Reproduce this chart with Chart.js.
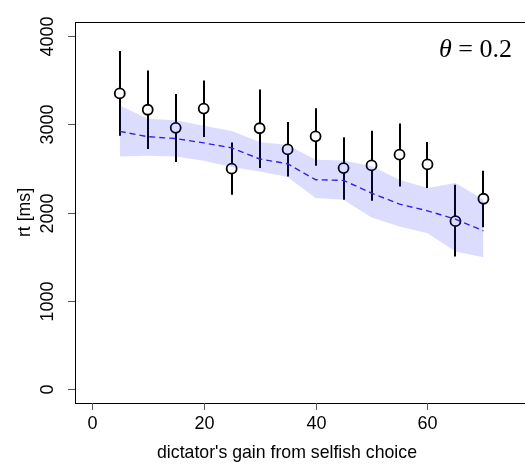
<!DOCTYPE html>
<html>
<head>
<meta charset="utf-8">
<script src="https://cdn.jsdelivr.net/npm/chart.js@4.4.0/dist/chart.umd.min.js"></script>
<style>
  body { margin: 0; overflow: hidden; background: #fff; }
  #wrap { width: 535px; height: 471px; }
</style>
</head>
<body>
<div id="wrap">
  <canvas id="rtChart" width="535" height="471"></canvas>
</div>

<script>
// dictator's gain (x) for each condition
const gains = [5, 10, 15, 20, 25, 30, 35, 40, 45, 50, 55, 60, 65, 70];

// observed mean rt and its interval
const obsMean = [3350, 3165, 2960, 3178, 2497, 2955, 2715, 2864, 2504, 2534, 2656, 2545, 1902, 2156];
const obsLow  = [2870, 2720, 2573, 2857, 2201, 2504, 2409, 2531, 2144, 2133, 2295, 2277, 1500, 1834];
const obsHigh = [3830, 3610, 3345, 3497, 2795, 3394, 3027, 3182, 2852, 2928, 3008, 2800, 2315, 2474];

// model prediction (theta = 0.2) with its band
const modelMean  = [2920, 2860, 2838, 2789, 2733, 2607, 2553, 2372, 2364, 2220, 2095, 2019, 1924, 1792];
const modelUpper = [3212, 3063, 3045, 2985, 2924, 2800, 2765, 2599, 2591, 2523, 2372, 2277, 2334, 2144];
const modelLower = [2636, 2644, 2636, 2588, 2516, 2466, 2402, 2164, 2144, 1943, 1841, 1766, 1557, 1493];

const xTicks = [0, 20, 40, 60];
const yTicks = [0, 1000, 2000, 3000, 4000];

const pts = arr => gains.map((g, i) => ({x: g, y: arr[i]}));

const FONT = '"Liberation Sans", Arial, sans-serif';
const R = 5;

// frame, ticks, labels and error bars drawn with the chart's own scales
const rAxes = {
  id: 'rAxes',
  beforeDatasetDraw(chart, args) {
    if (args.index !== 3) return;
    const {ctx, scales: {x, y}} = chart;
    ctx.save();
    ctx.strokeStyle = '#000';
    ctx.lineWidth = 2;
    gains.forEach((g, i) => {
      const px = Math.round(x.getPixelForValue(g));
      const cy = y.getPixelForValue(obsMean[i]);
      const top = y.getPixelForValue(obsHigh[i]);
      const bot = y.getPixelForValue(obsLow[i]);
      ctx.beginPath();
      ctx.moveTo(px, top);
      ctx.lineTo(px, cy - R);
      ctx.moveTo(px, cy + R);
      ctx.lineTo(px, bot);
      ctx.stroke();
    });
    ctx.restore();
  },
  afterDraw(chart) {
    const {ctx, chartArea: a, scales: {x, y}} = chart;
    ctx.save();
    ctx.strokeStyle = '#000';
    ctx.lineWidth = 1;
    ctx.strokeRect(a.left + 0.5, a.top + 0.5, a.right - a.left, a.bottom - a.top);

    ctx.strokeStyle = '#555';
    ctx.fillStyle = '#000';
    ctx.font = '18px ' + FONT;
    ctx.textAlign = 'center';
    ctx.textBaseline = 'middle';

    xTicks.forEach(v => {
      const px = Math.round(x.getPixelForValue(v)) + 0.5;
      ctx.beginPath();
      ctx.moveTo(px, a.bottom);
      ctx.lineTo(px, a.bottom + 7);
      ctx.stroke();
      ctx.fillText(String(v), px, 424);
    });

    yTicks.forEach(v => {
      const py = Math.round(y.getPixelForValue(v)) + 0.5;
      ctx.beginPath();
      ctx.moveTo(a.left, py);
      ctx.lineTo(a.left - 7, py);
      ctx.stroke();
      ctx.save();
      ctx.translate(48, py);
      ctx.rotate(-Math.PI / 2);
      ctx.fillText(String(v), 0, 0);
      ctx.restore();
    });

    ctx.font = '17.7px ' + FONT;
    ctx.fillText("dictator's gain from selfish choice", 287, 453);
    ctx.save();
    ctx.translate(25, y.getPixelForValue(2000));
    ctx.rotate(-Math.PI / 2);
    ctx.fillText('rt [ms]', 0, 0);
    ctx.restore();

    // parameter label
    ctx.textAlign = 'right';
    ctx.textBaseline = 'alphabetic';
    ctx.font = '26px "Liberation Serif", "Times New Roman", serif';
    const rest = ' = 0.2';
    ctx.fillText(rest, 512, 57);
    const w = ctx.measureText(rest).width;
    ctx.font = 'italic 26px "Liberation Serif", "Times New Roman", serif';
    ctx.fillText('\u03B8', 512 - w, 57);
    ctx.restore();
  }
};

new Chart(document.getElementById('rtChart'), {
  type: 'scatter',
  data: {
    datasets: [
      {
        data: pts(modelUpper),
        showLine: true,
        borderWidth: 0,
        pointRadius: 0,
        backgroundColor: 'rgba(40, 40, 255, 0.16)',
        fill: '+1'
      },
      {
        data: pts(modelLower),
        showLine: true,
        borderWidth: 0,
        pointRadius: 0,
        fill: false
      },
      {
        data: pts(modelMean),
        showLine: true,
        borderColor: '#3a1fd8',
        borderWidth: 1.4,
        borderDash: [6, 4],
        pointRadius: 0,
        fill: false
      },
      {
        data: pts(obsMean),
        showLine: false,
        pointStyle: 'circle',
        pointRadius: R,
        pointBorderWidth: 1.8,
        pointBorderColor: '#000',
        pointBackgroundColor: 'rgba(0,0,0,0)'
      }
    ]
  },
  options: {
    responsive: false,
    animation: false,
    devicePixelRatio: 1,
    layout: { padding: { left: 75, top: 22, right: 6, bottom: 68 } },
    plugins: { legend: { display: false }, tooltip: { enabled: false } },
    scales: {
      x: { type: 'linear', min: -3, max: 78, display: false },
      y: { type: 'linear', min: -160, max: 4160, display: false }
    }
  },
  plugins: [rAxes]
});
</script>
</body>
</html>
